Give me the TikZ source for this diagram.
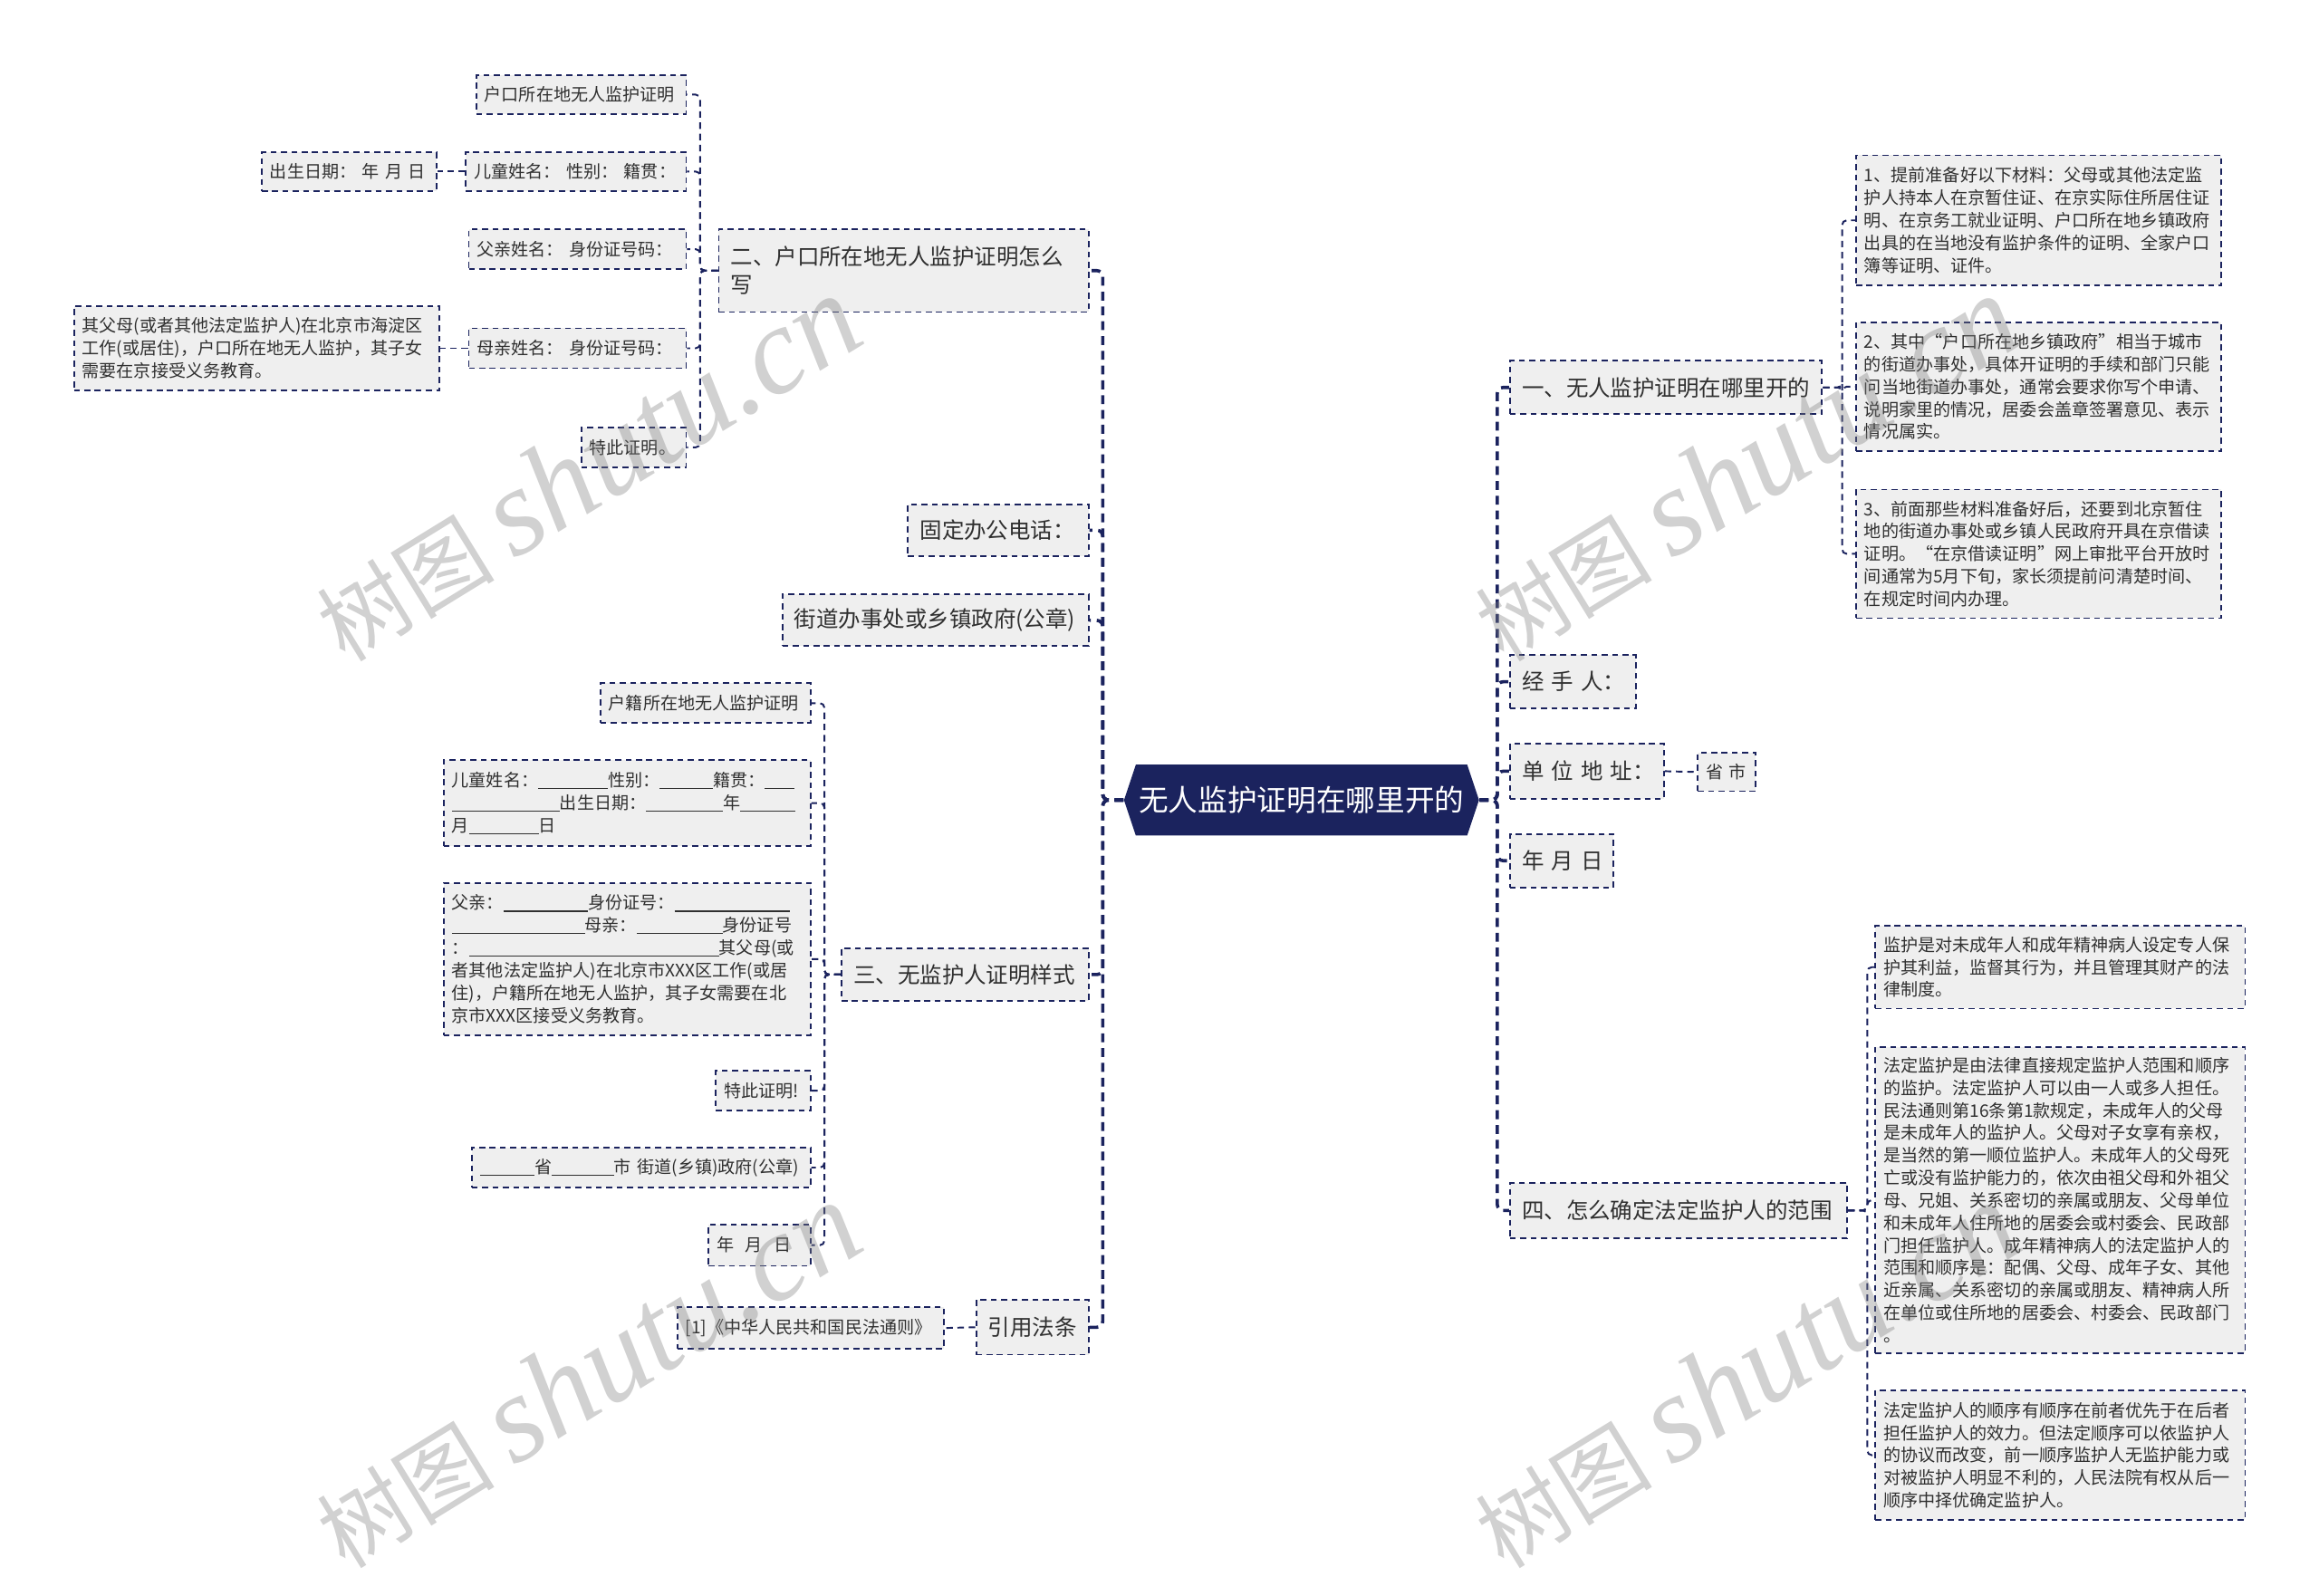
\documentclass[tikz,border=0pt]{standalone}
\usepackage{fontspec}
\setmainfont{Noto Sans CJK SC}
\newfontfamily\wmlat{Liberation Serif}
\usetikzlibrary{calc}
\definecolor{navy}{HTML}{1B235E}
\definecolor{boxfill}{HTML}{EFEFEF}
\definecolor{txt}{HTML}{303030}
\newcommand\bl[1]{\rule[-0.8pt]{#1}{0.35pt}}
\tikzset{
  lone/.style={draw=navy, line width=0.6pt, dash pattern=on 2pt off 1.5pt, fill=boxfill, text=txt,
    font=\fontsize{7.5}{9.6}\selectfont, inner xsep=4pt, inner ysep=2pt, align=left},
  ltwo/.style={draw=navy, line width=0.55pt, dash pattern=on 2pt off 1.5pt, fill=boxfill, text=txt,
    font=\fontsize{5.85}{7.6}\selectfont, inner xsep=2.75pt, inner ysep=1.5pt, align=left},
  cone/.style={draw=navy, line width=1.1pt, dash pattern=on 3pt off 2pt, rounded corners=2pt},
  ctwo/.style={draw=navy, line width=0.6pt, dash pattern=on 2.2pt off 1.6pt, rounded corners=1.5pt},
  wmark/.style={text=gray, opacity=0.36, rotate=31.6, font=\fontsize{30}{30}\selectfont, inner sep=0pt}
}
\begin{document}
\begin{tikzpicture}[x=0.5pt,y=-0.5pt]
\useasboundingbox[fill=white] (0,0) rectangle (1568,1079);

% centre
\fill[navy] (760,541) -- (768,517) -- (992,517) -- (1000,541) -- (992,565) -- (768,565) -- cycle;
\node[text=white, font=\fontsize{10}{12}\selectfont, minimum width=120pt, minimum height=24pt, inner sep=0pt] (c) at (880,541) {无人监护证明在哪里开的};

% left level 1
\node[lone, text width=117pt, minimum height=28pt] (b2) at (611,183) {二、户口所在地无人监护证明怎么\\写};
\node[lone, text width=53pt, minimum height=17.5pt] (tel) at (675,358.5) {固定办公电话：};
\node[lone, text width=95.5pt, minimum height=17.5pt] (seal) at (632.5,419.5) {街道办事处或乡镇政府(公章)};
\node[lone, text width=75.5pt, minimum height=18pt] (b3) at (652.5,659) {三、无监护人证明样式};
\node[lone, text width=30pt, minimum height=18.5pt] (law) at (698,897.5) {引用法条};

% right level 1
\node[lone, text width=97.5pt, minimum height=18pt] (b1) at (1126.5,262) {一、无人监护证明在哪里开的};
\node[lone, text width=34.5pt, minimum height=18pt] (jsr) at (1063.5,461) {经~手~人：};
\node[lone, text width=44pt, minimum height=18.5pt] (addr) at (1073,521.5) {单~位~地~址：};
\node[lone, text width=27pt, minimum height=18pt] (ymd) at (1056,582) {年~月~日};
\node[lone, text width=106pt, minimum height=18.5pt] (b4) at (1135,818.5) {四、怎么确定法定监护人的范围};

% children of 二
\node[ltwo, text width=65.5pt, minimum height=13pt] (a1) at (393,64) {户口所在地无人监护证明};
\node[ltwo, text width=69pt, minimum height=13pt] (a2) at (389.5,116) {儿童姓名：~性别：~籍贯：};
\node[ltwo, text width=53.5pt, minimum height=13pt] (a2b) at (236,116) {出生日期：~年~月~日};
\node[ltwo, text width=68pt, minimum height=13.5pt] (a3) at (390.5,168.5) {父亲姓名：~身份证号码：};
\node[ltwo, text width=68pt, minimum height=13.5pt] (a4) at (390.5,235.5) {母亲姓名：~身份证号码：};
\node[ltwo, text width=118pt, minimum height=28.5pt] (a4b) at (173.5,235.5) {其父母(或者其他法定监护人)在北京市海淀区\\工作(或居住)，户口所在地无人监护，其子女\\需要在京接受义务教育。};
\node[ltwo, text width=30pt, minimum height=13.5pt] (a5) at (428.5,302.5) {特此证明。};

% children of 三
\node[ltwo, text width=65.5pt, minimum height=13.5pt] (s1) at (477,475.5) {户籍所在地无人监护证明};
\node[ltwo, text width=118.5pt, minimum height=29pt] (s2) at (424,543) {儿童姓名：\bl{23.5pt}性别：\bl{18pt}籍贯：\bl{10pt}\\\bl{36.5pt}出生日期：\bl{26pt}年\bl{18.5pt}\\月\bl{23.5pt}日};
\node[ltwo, text width=118.5pt, minimum height=51.5pt] (s3) at (424,648.5) {父亲：\bl{28.5pt}身份证号：\bl{39pt}\\\bl{45pt}母亲：\bl{29pt}身份证号\\：\bl{84.5pt}其父母(或\\者其他法定监护人)在北京市XXX区工作(或居\\住)，户籍所在地无人监护，其子女需要在北\\京市XXX区接受义务教育。};
\node[ltwo, text width=26.5pt, minimum height=13.5pt] (s4) at (516,737.5) {特此证明!};
\node[ltwo, text width=109pt, minimum height=13.5pt] (s5) at (433.5,789.5) {\bl{18.5pt}省\bl{21pt}市~街道(乡镇)政府(公章)};
\node[ltwo, text width=29pt, minimum height=14pt] (s6) at (513.5,842) {年~~月~~日};

% child of 引用法条
\node[ltwo, text width=84.5pt, minimum height=14pt] (ref) at (548,898) {[1]《中华人民共和国民法通则》};

% children of 一
\node[ltwo, text width=118pt, minimum height=44pt] (r1) at (1378.5,149) {1、提前准备好以下材料：父母或其他法定监\\护人持本人在京暂住证、在京实际住所居住证\\明、在京务工就业证明、户口所在地乡镇政府\\出具的在当地没有监护条件的证明、全家户口\\簿等证明、证件。};
\node[ltwo, text width=118pt, minimum height=43.5pt] (r2) at (1378.5,261.5) {2、其中“户口所在地乡镇政府”相当于城市\\的街道办事处，具体开证明的手续和部门只能\\问当地街道办事处，通常会要求你写个申请、\\说明家里的情况，居委会盖章签署意见、表示\\情况属实。};
\node[ltwo, text width=118pt, minimum height=43.5pt] (r3) at (1378.5,374.5) {3、前面那些材料准备好后，还要到北京暂住\\地的街道办事处或乡镇人民政府开具在京借读\\证明。“在京借读证明”网上审批平台开放时\\间通常为5月下旬，家长须提前问清楚时间、\\在规定时间内办理。};

% child of 单位地址
\node[ltwo, text width=14pt, minimum height=13pt] (pc) at (1167.5,522) {省~市};

% children of 四
\node[ltwo, text width=119.5pt, minimum height=28pt] (f1) at (1393,654) {监护是对未成年人和成年精神病人设定专人保\\护其利益，监督其行为，并且管理其财产的法\\律制度。};
\node[ltwo, text width=119.5pt, minimum height=103.5pt] (f2) at (1393,811.5) {法定监护是由法律直接规定监护人范围和顺序\\的监护。法定监护人可以由一人或多人担任。\\民法通则第16条第1款规定，未成年人的父母\\是未成年人的监护人。父母对子女享有亲权，\\是当然的第一顺位监护人。未成年人的父母死\\亡或没有监护能力的，依次由祖父母和外祖父\\母、兄姐、关系密切的亲属或朋友、父母单位\\和未成年人住所地的居委会或村委会、民政部\\门担任监护人。成年精神病人的法定监护人的\\范围和顺序是：配偶、父母、成年子女、其他\\近亲属、关系密切的亲属或朋友、精神病人所\\在单位或住所地的居委会、村委会、民政部门\\。};
\node[ltwo, text width=119.5pt, minimum height=44pt] (f3) at (1393,984) {法定监护人的顺序有顺序在前者优先于在后者\\担任监护人的效力。但法定顺序可以依监护人\\的协议而改变，前一顺序监护人无监护能力或\\对被监护人明显不利的，人民法院有权从后一\\顺序中择优确定监护人。};

% level-1 connectors
\foreach \n in {b2,tel,seal,b3,law}
  \draw[cone] (c.west) -- ++(-14,0) |- (\n.east);
\foreach \n in {b1,jsr,addr,ymd,b4}
  \draw[cone] (c.east) -- ++(12,0) |- (\n.west);

% level-2 connectors
\foreach \n in {a1,a2,a3,a4,a5}
  \draw[ctwo] (b2.west) -- ++(-12,0) |- (\n.east);
\draw[ctwo] (a2.west) -- (a2b.east);
\draw[ctwo] (a4.west) -- (a4b.east);
\foreach \n in {s1,s2,s3,s4,s5,s6}
  \draw[ctwo] (b3.west) -- ++(-11,0) |- (\n.east);
\draw[ctwo] (law.west) -- (ref.east);
\foreach \n in {r1,r2,r3}
  \draw[ctwo] (b1.east) -- ++(13,0) |- (\n.west);
\draw[ctwo] (addr.east) -- (pc.west);
\foreach \n in {f1,f2,f3}
  \draw[ctwo] (b4.east) -- ++(13,0) |- (\n.west);

% watermarks
\node[wmark] (w1) at (397,317) {树图 {\wmlat\itshape\fontsize{42}{42}\selectfont shutu.cn}};
\node[wmark] (w2) at (397,930) {树图 {\wmlat\itshape\fontsize{42}{42}\selectfont shutu.cn}};
\node[wmark] (w3) at (1180,317) {树图 {\wmlat\itshape\fontsize{42}{42}\selectfont shutu.cn}};
\node[wmark] (w4) at (1180,930) {树图 {\wmlat\itshape\fontsize{42}{42}\selectfont shutu.cn}};
\end{tikzpicture}
\end{document}
